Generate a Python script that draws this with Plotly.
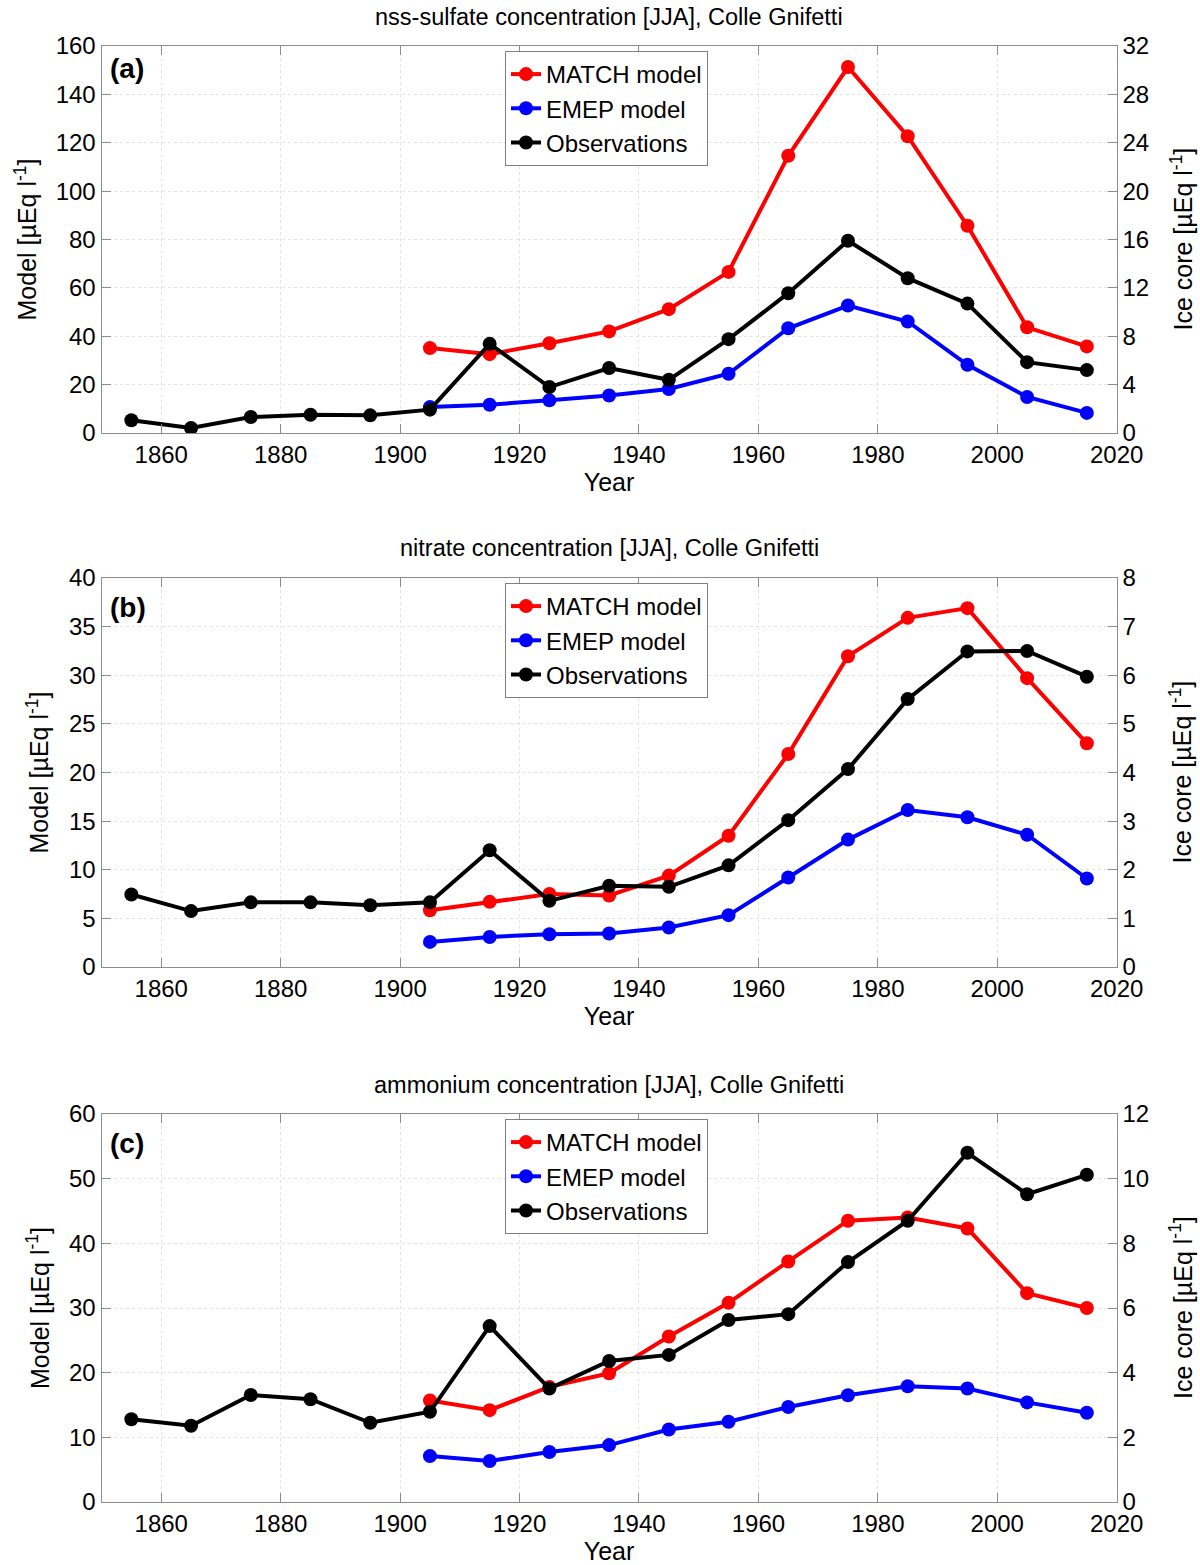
import plotly.graph_objects as go
from plotly.subplots import make_subplots

years_obs = [1855, 1865, 1875, 1885, 1895, 1905, 1915, 1925, 1935, 1945, 1955, 1965, 1975, 1985, 1995, 2005, 2015]
years_mod = [1905, 1915, 1925, 1935, 1945, 1955, 1965, 1975, 1985, 1995, 2005, 2015]

# (a) nss-sulfate
so4_match = [35.1, 32.6, 37.1, 42.0, 51.2, 66.6, 114.6, 151.3, 122.7, 85.7, 43.7, 35.8]
so4_emep = [10.7, 11.7, 13.5, 15.5, 18.2, 24.5, 43.3, 52.7, 46.1, 28.2, 14.9, 8.3]
so4_obs = [1.05, 0.41, 1.32, 1.51, 1.46, 1.93, 7.37, 3.8, 5.37, 4.4, 7.76, 11.56, 15.9, 12.8, 10.7, 5.86, 5.2]

# (b) nitrate
no3_match = [5.84, 6.7, 7.5, 7.35, 9.4, 13.5, 21.9, 31.96, 35.9, 36.9, 29.7, 23.0]
no3_emep = [2.58, 3.09, 3.37, 3.44, 4.06, 5.33, 9.2, 13.1, 16.15, 15.4, 13.6, 9.1]
no3_obs = [1.49, 1.15, 1.33, 1.33, 1.27, 1.33, 2.40, 1.36, 1.67, 1.65, 2.09, 3.02, 4.07, 5.51, 6.49, 6.50, 5.97]

# (c) ammonium
nh4_match = [15.7, 14.2, 17.8, 19.9, 25.6, 30.8, 37.2, 43.5, 44.0, 42.3, 32.3, 30.0]
nh4_emep = [7.1, 6.35, 7.74, 8.8, 11.2, 12.4, 14.7, 16.5, 17.9, 17.55, 15.4, 13.8]
nh4_obs = [2.56, 2.36, 3.31, 3.18, 2.45, 2.79, 5.44, 3.51, 4.36, 4.55, 5.63, 5.81, 7.42, 8.70, 10.80, 9.52, 10.12]

titles = ["nss-sulfate concentration [JJA], Colle Gnifetti",
          "nitrate concentration [JJA], Colle Gnifetti",
          "ammonium concentration [JJA], Colle Gnifetti"]
labels = ["(a)", "(b)", "(c)"]
left_title = "Model [µEq l<sup>-1</sup>]"
right_title = "Ice core [µEq l<sup>-1</sup>]"
left_ranges = [(160, 20), (40, 5), (60, 10)]
right_ranges = [(32, 4), (8, 1), (12, 2)]
x_ticks = [1860, 1880, 1900, 1920, 1940, 1960, 1980, 2000, 2020]

panels = [(so4_match, so4_emep, so4_obs), (no3_match, no3_emep, no3_obs), (nh4_match, nh4_emep, nh4_obs)]

W, H = 1200, 1565
FONT = "Liberation Sans"
# pixel layout of each panel (top, bottom)
panel_px = [(46, 433), (578, 967), (1114, 1502)]
x_px = (101.5, 1116.7)
title_px = [17, 548, 1085]
label_px = [68, 607, 1143]
legend_top_px = [51, 583, 1119]
ltitle_x = [25, 38, 38]
rtitle_x = 1181

fig = make_subplots(rows=3, cols=1, specs=[[{"secondary_y": True}]] * 3)

for i, (m, e, o) in enumerate(panels):
    r = i + 1
    leg = "legend" if i == 0 else f"legend{i + 1}"
    fig.add_trace(go.Scatter(x=years_mod, y=m, name="MATCH model", mode="lines+markers",
                             line=dict(color="#ff0000", width=4), marker=dict(size=14, color="#ff0000"),
                             legend=leg), row=r, col=1, secondary_y=False)
    fig.add_trace(go.Scatter(x=years_mod, y=e, name="EMEP model", mode="lines+markers",
                             line=dict(color="#0000ff", width=4), marker=dict(size=14, color="#0000ff"),
                             legend=leg), row=r, col=1, secondary_y=False)
    fig.add_trace(go.Scatter(x=years_obs, y=o, name="Observations", mode="lines+markers",
                             line=dict(color="#000000", width=4), marker=dict(size=14, color="#000000"),
                             legend=leg), row=r, col=1, secondary_y=True)

axcol = "#8c8c8c"
TICK = 24
AXT = 25
layout = dict(
    width=W, height=H, autosize=False,
    margin=dict(l=0, r=0, t=0, b=0, autoexpand=False),
    paper_bgcolor="white", plot_bgcolor="white",
    font=dict(family=FONT, size=TICK, color="black"),
    showlegend=True,
)
annotations = []
for i in range(3):
    top, bot = panel_px[i]
    dom = [1 - bot / H, 1 - top / H]
    ymid = 1 - (top + bot) / 2 / H
    xname = "xaxis" if i == 0 else f"xaxis{i + 1}"
    yl = "yaxis" if i == 0 else f"yaxis{2 * i + 1}"
    yr = f"yaxis{2 * i + 2}"
    layout[xname] = dict(
        domain=[x_px[0] / W, x_px[1] / W], range=[1850, 2020], automargin=False,
        tickvals=x_ticks, ticks="inside", ticklen=9, tickcolor=axcol,
        showline=True, linecolor=axcol, linewidth=1, mirror="ticks",
        showgrid=True, gridcolor="#e3e3e3", griddash="dot", gridwidth=1,
        zeroline=False, tickfont=dict(size=TICK),
        title=dict(text="Year", font=dict(size=AXT), standoff=0),
    )
    lmax, ldt = left_ranges[i]
    layout[yl] = dict(
        domain=dom, range=[0, lmax], dtick=ldt, tick0=0, automargin=False,
        ticks="inside", ticklen=9, tickcolor=axcol,
        showline=True, linecolor=axcol, linewidth=1,
        showgrid=True, gridcolor="#e3e3e3", griddash="dot", gridwidth=1,
        zeroline=False, tickfont=dict(size=TICK),
    )
    rmax, rdt = right_ranges[i]
    layout[yr] = dict(
        range=[0, rmax], dtick=rdt, tick0=0, automargin=False,
        ticks="inside", ticklen=9, tickcolor=axcol,
        showline=True, linecolor=axcol, linewidth=1,
        showgrid=False, zeroline=False, tickfont=dict(size=TICK),
    )
    leg = "legend" if i == 0 else f"legend{i + 1}"
    layout[leg] = dict(
        x=505 / W, y=1 - legend_top_px[i] / H, xanchor="left", yanchor="top",
        bgcolor="white", bordercolor="#7f7f7f", borderwidth=1,
        font=dict(family=FONT, size=24, color="black"),
        itemwidth=30, tracegroupgap=0,
    )
    annotations.append(dict(
        text=titles[i], xref="paper", yref="paper",
        x=(x_px[0] + x_px[1]) / 2 / W, y=1 - title_px[i] / H,
        xanchor="center", yanchor="middle", showarrow=False,
        font=dict(family=FONT, size=23.5, color="black"),
    ))
    annotations.append(dict(
        text="<b>" + labels[i] + "</b>", xref="paper", yref="paper",
        x=108 / W, y=1 - label_px[i] / H,
        xanchor="left", yanchor="middle", showarrow=False,
        font=dict(family=FONT, size=28, color="black"),
    ))
    annotations.append(dict(
        text=left_title, xref="paper", yref="paper",
        x=ltitle_x[i] / W, y=ymid, textangle=-90,
        xanchor="center", yanchor="middle", showarrow=False,
        font=dict(family=FONT, size=AXT, color="black"),
    ))
    annotations.append(dict(
        text=right_title, xref="paper", yref="paper",
        x=rtitle_x / W, y=ymid, textangle=-90,
        xanchor="center", yanchor="middle", showarrow=False,
        font=dict(family=FONT, size=AXT, color="black"),
    ))
layout["annotations"] = annotations
fig.update_layout(**layout)

fig.write_html("out.html", config={"displayModeBar": False},
               post_script="document.body.style.margin='0px';document.body.style.overflow='hidden';")
